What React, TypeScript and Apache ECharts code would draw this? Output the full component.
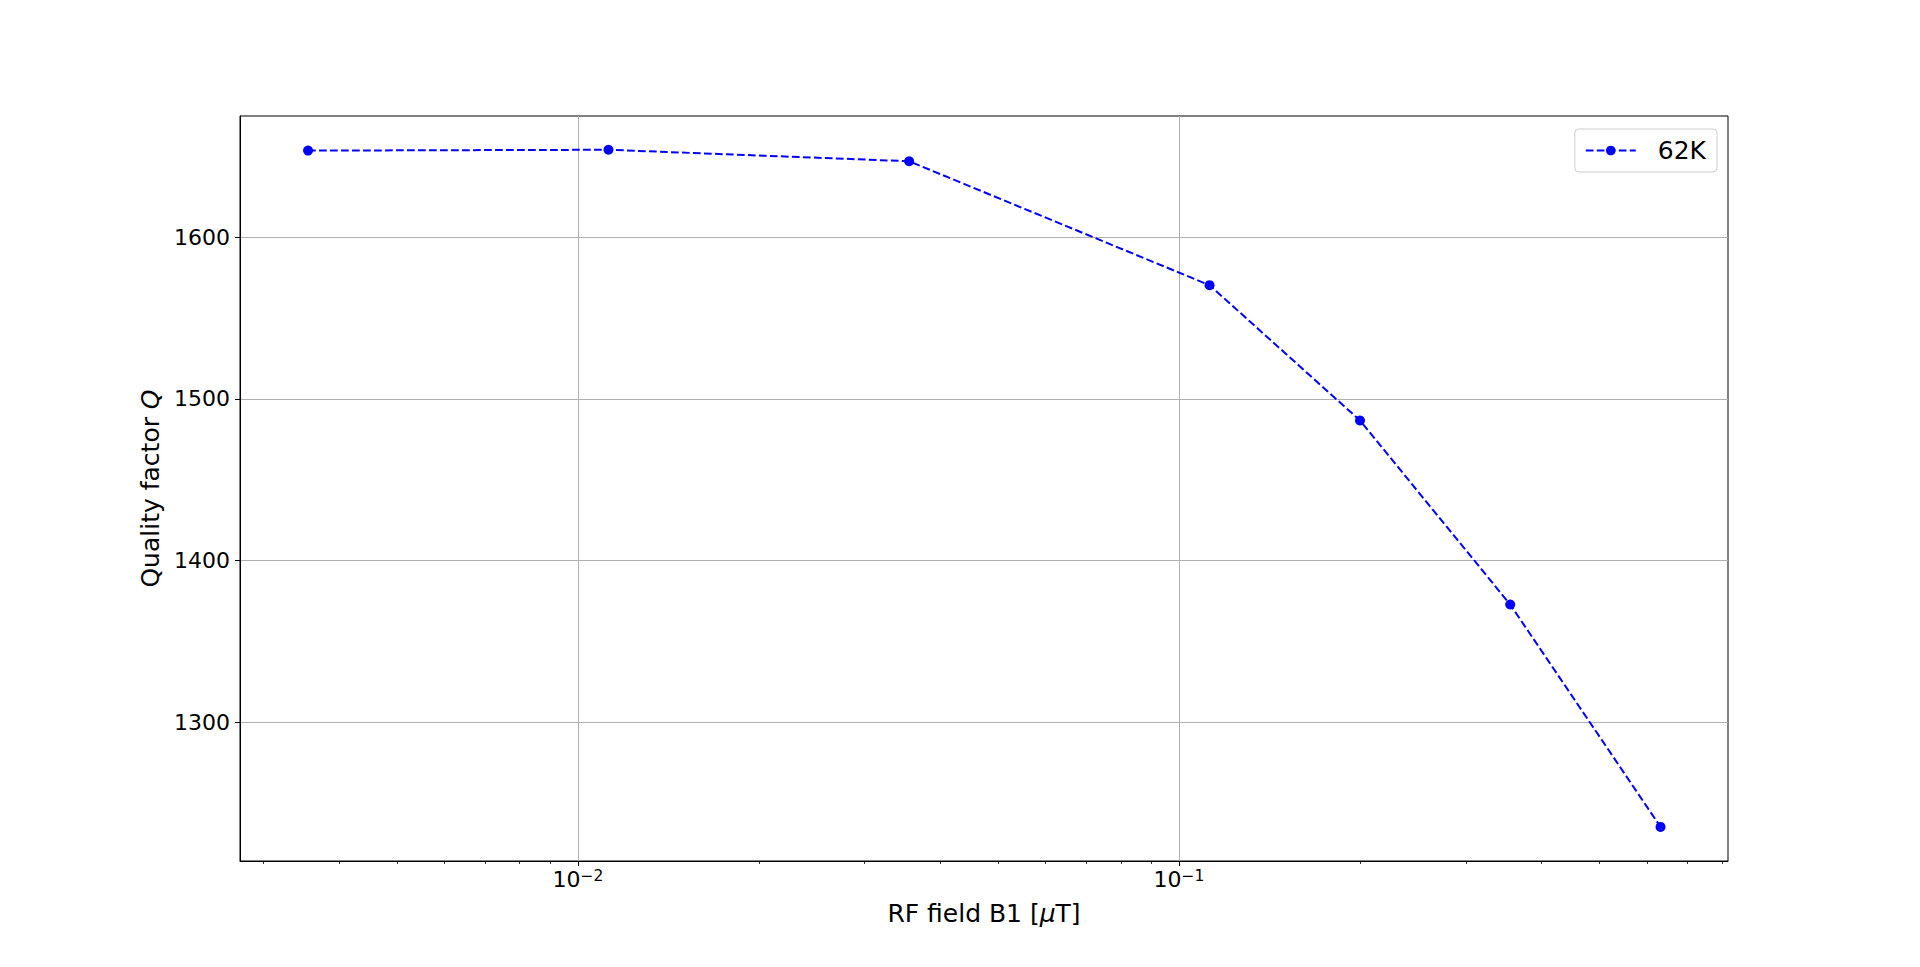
import React, { useEffect, useRef } from "react";
import * as echarts from "echarts";

// ---- data ----
const rfField = [0.003556, 0.01124, 0.03556, 0.1124, 0.2, 0.3556, 0.6325];
const qualityFactor = [1653.6, 1654.1, 1647.0, 1570.3, 1486.6, 1372.7, 1235.1];
const seriesName = "62K";
const xMajorTicks = [0.01, 0.1];
const xMinorTicks = [
  0.003, 0.004, 0.005, 0.006, 0.007, 0.008, 0.009,
  0.02, 0.03, 0.04, 0.05, 0.06, 0.07, 0.08, 0.09,
  0.2, 0.3, 0.4, 0.5, 0.6, 0.7, 0.8,
];
const yTicks = [1300, 1400, 1500, 1600];
const xRange = [0.00274, 0.819];
const yRange = [1214, 1675];

const FONT = "DejaVu Sans";
const powLabel = (v: number) => {
  const e = Math.round(Math.log10(v));
  const s = e < 0 ? "\u2212" + String(-e) : String(e);
  return "{b|10}{sup|" + s + "}";
};

export default function App() {
  const ref = useRef<HTMLDivElement>(null);
  useEffect(() => {
    if (!ref.current) return;
    const chart = echarts.init(ref.current, undefined, { renderer: "svg" });
    chart.setOption({
      animation: false,
      backgroundColor: "#ffffff",
      textStyle: { fontFamily: FONT, color: "#000" },
      grid: {
        left: 240,
        right: 192,
        top: 116,
        bottom: 106,
        show: true,
        borderColor: "#000",
        borderWidth: 1,
        backgroundColor: "transparent",
      },
      legend: {
        data: [{ name: seriesName }],
        right: 203,
        top: 129,
        orient: "vertical",
        itemWidth: 50,
        itemHeight: 12,
        padding: [9, 11, 9, 10],
        borderColor: "#cccccc",
        borderWidth: 1,
        borderRadius: 4,
        backgroundColor: "rgba(255,255,255,0.8)",
        textStyle: { fontSize: 25, color: "#000", fontFamily: FONT, padding: [0, 0, 0, 17] },
      },
      xAxis: [
        {
          type: "log",
          logBase: 10,
          min: xRange[0],
          max: xRange[1],
          position: "bottom",
          axisLine: { show: true, lineStyle: { color: "#000", width: 1 } },
          axisTick: { show: true, customValues: xMajorTicks, length: 5, lineStyle: { color: "#000", width: 1 } },
          axisLabel: {
            customValues: xMajorTicks,
            formatter: (v: number) => powLabel(v),
            fontSize: 22,
            color: "#000",
            fontFamily: FONT,
            margin: 7,
            rich: {
              b: { fontSize: 22, fontFamily: FONT, color: "#000", verticalAlign: "bottom" },
              sup: { fontSize: 15.5, fontFamily: FONT, color: "#000", verticalAlign: "top" },
            },
          },
          splitLine: { show: true, lineStyle: { color: "#b0b0b0", width: 1 } },
          minorTick: { show: false },
          name: "RF field B1 [{i|\u03BC}T]",
          nameLocation: "middle",
          nameGap: 40,
          nameTextStyle: {
            fontSize: 25,
            color: "#000",
            fontFamily: FONT,
            rich: { i: { fontStyle: "italic", fontSize: 25, fontFamily: FONT, color: "#000" } },
          },
        },
        {
          type: "log",
          logBase: 10,
          min: xRange[0],
          max: xRange[1],
          position: "bottom",
          axisLine: { show: false },
          axisTick: { show: true, customValues: xMinorTicks, length: 3, lineStyle: { color: "#000", width: 0.8 } },
          axisLabel: { show: false },
          splitLine: { show: false },
        },
      ],
      yAxis: {
        type: "value",
        min: yRange[0],
        max: yRange[1],
        axisLine: { show: true, lineStyle: { color: "#000", width: 1 } },
        axisTick: { show: true, customValues: yTicks, length: 5, lineStyle: { color: "#000", width: 1 } },
        axisLabel: {
          customValues: yTicks,
          formatter: (v: number) => String(v),
          fontSize: 22,
          color: "#000",
          fontFamily: FONT,
          margin: 10,
        },
        splitLine: { show: true, lineStyle: { color: "#b0b0b0", width: 1 } },
        name: "Quality factor {i|Q}",
        nameLocation: "middle",
        nameGap: 68,
        nameTextStyle: {
          fontSize: 25,
          color: "#000",
          fontFamily: FONT,
          rich: { i: { fontStyle: "italic", fontSize: 25, fontFamily: FONT, color: "#000" } },
        },
      },
      series: [
        {
          name: seriesName,
          type: "line",
          xAxisIndex: 0,
          data: rfField.map((x, i) => [x, qualityFactor[i]]),
          symbol: "circle",
          symbolSize: 10,
          lineStyle: { color: "#0000ff", width: 2, type: [7.7, 3.3] },
          itemStyle: { color: "#0000ff" },
        },
      ],
    });
    return () => chart.dispose();
  }, []);
  return (
    <div
      ref={ref}
      style={{ position: "fixed", left: 0, top: 0, width: 1920, height: 967 }}
    />
  );
}
